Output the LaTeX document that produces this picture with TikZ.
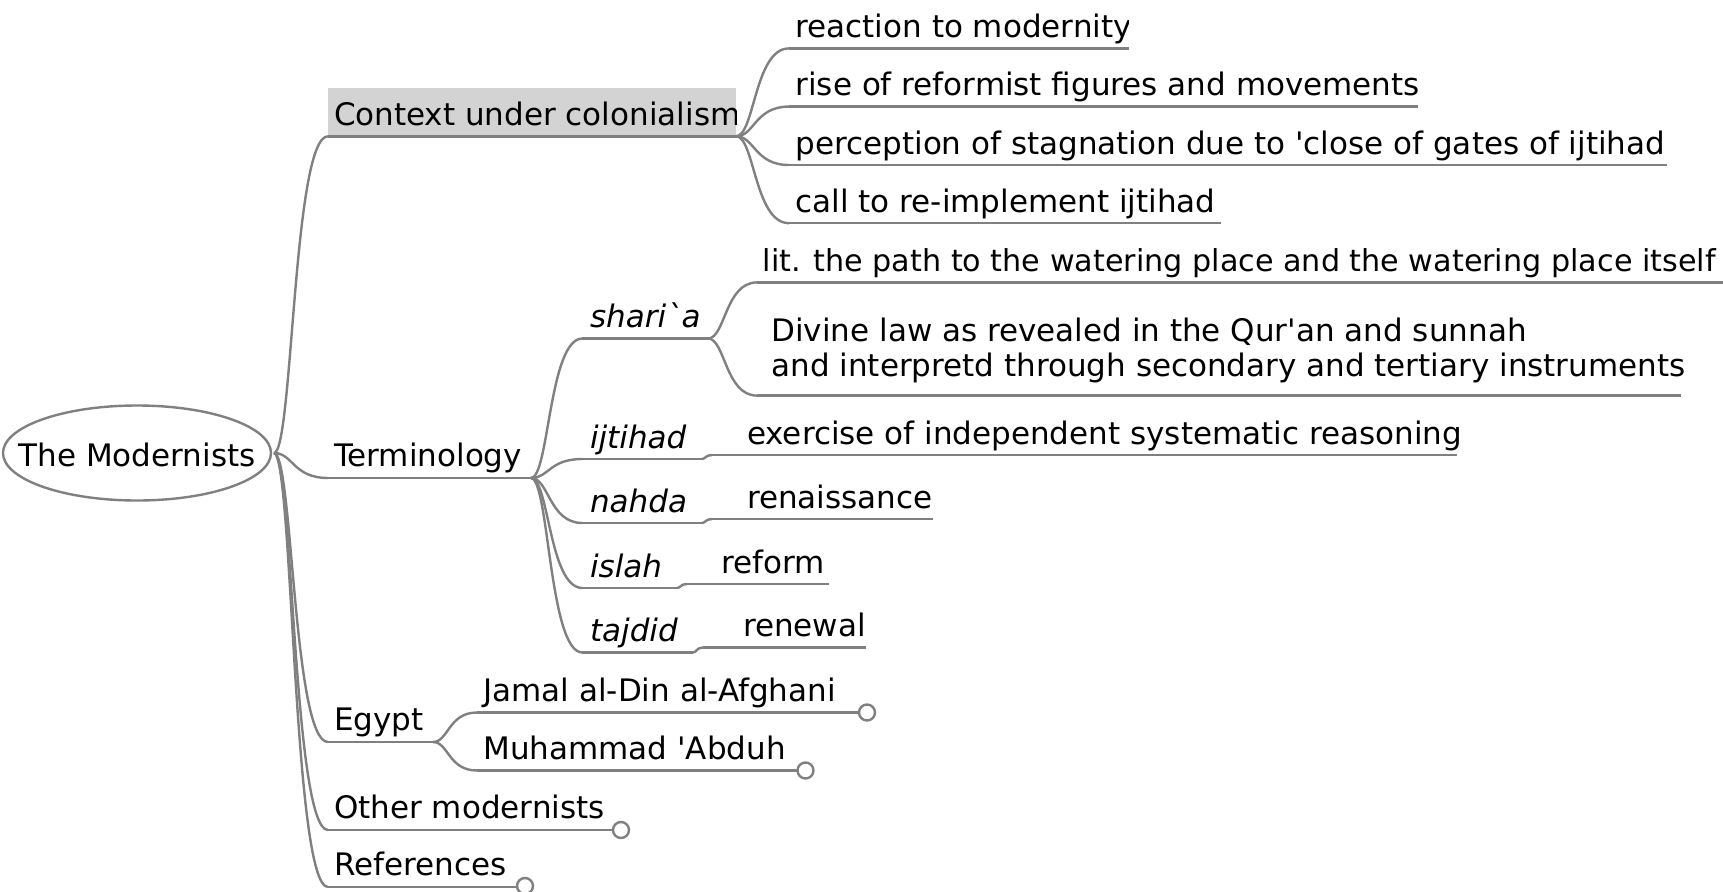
\documentclass[tikz,border=0pt]{standalone}
\usepackage{fontspec}
\setmainfont{DejaVu Sans}
\usetikzlibrary{calc}
\definecolor{edgegray}{RGB}{128,128,128}
\definecolor{fillgray}{RGB}{211,211,211}
\newcommand\mmedge[2]{\draw[edge] let \p1=(#1), \p2=(#2), \p3=($(#1)!0.35!(#2)$) in (\p1) .. controls (\x3,\y1) and (\x3,\y2) .. (\p2);}
\newcommand\qs{\textquotesingle}
\begin{document}
\begin{tikzpicture}[x=1pt,y=-1pt,
  edge/.style={draw=edgegray,line width=2.4pt},
  lbl/.style={anchor=base west,inner sep=0pt,outer sep=0pt,font=\fontsize{31}{35}\selectfont},
  ilbl/.style={lbl,font=\fontsize{31}{35}\selectfont\itshape},
  fold/.style={circle,draw=edgegray,fill=white,line width=2.4pt,minimum size=16pt,inner sep=0pt}]
\useasboundingbox (0,0) rectangle (1723,891);
% root
\node[inner sep=0pt,font=\fontsize{31}{35}\selectfont] (root) at (137,455) {The Modernists};
\draw[edge] (root.center) ++(0,-2) ellipse [x radius=134, y radius=47.5];
\coordinate (rootj) at (274,453);
% level 1
\fill[fillgray] (328,88) rectangle (736,136.3);
\coordinate (ctxs) at (328,136.3); \coordinate (ctxe) at (736,136.3);
\coordinate (ters) at (328,478);   \coordinate (tere) at (531,478);
\coordinate (egys) at (328,742);   \coordinate (egye) at (433,742);
\coordinate (oths) at (328,830);   \coordinate (othe) at (613,830);
\coordinate (refs) at (328,887);   \coordinate (refe) at (517,887);
\begin{scope}\clip (328,80) rectangle (736,140);
\node[lbl] (ctx) at (334,125) {Context under colonialism};
\end{scope}
\node[lbl] (ter) at (334,466.5) {Terminology};
\node[lbl] (egy) at (334,730.5) {Egypt};
\node[lbl] (oth) at (334,818.5) {Other modernists};
\node[lbl] (ref) at (334,875.5) {References};
\foreach \k in {ctx,ter,egy,oth,ref}{\draw[edge] (\k s) -- (\k e); \mmedge{rootj}{\k s}}
% context children
\foreach \m/\yy/\ee in {ca/48.4/1128.6, cb/106.6/1417.6, cc/165/1667, cd/223.2/1221}{
  \coordinate (\m s) at (789,\yy); \coordinate (\m e) at (\ee,\yy);
  \draw[edge] (\m s) -- (\m e); \mmedge{ctxe}{\m s}}
\begin{scope}\clip (780,0) rectangle (1128.6,60);
\node[lbl] (ca) at (795.6,37.4) {reaction to modernity};
\end{scope}
\begin{scope}\clip (780,60) rectangle (1417.6,118);
\node[lbl] (cb) at (795.6,95.6) {rise of reformist figures and movements};
\end{scope}
\begin{scope}\clip (780,118) rectangle (1667,178);
\node[lbl] (cc) at (795.6,154) {perception of stagnation due to \qs close of gates of ijtihad};
\end{scope}
\node[lbl] (cd) at (795.6,212.2) {call to re-implement ijtihad};
% terminology children
\coordinate (shs) at (582.4,338.5); \coordinate (she) at (708,338.5);
\draw[edge] (shs) -- (she); \mmedge{tere}{shs}
\node[ilbl] (sh) at (590,327.5) {shari\textasciigrave a};
\coordinate (lits) at (757,282.4); \coordinate (lite) at (1723,282.4);
\coordinate (divs) at (757,395.6); \coordinate (dive) at (1681,395.6);
\draw[edge] (lits) -- (lite); \mmedge{she}{lits}
\draw[edge] (divs) -- (dive); \mmedge{she}{divs}
\node[lbl,font=\fontsize{30.2}{35}\selectfont] (lit) at (762.6,271.4) {lit. the path to the watering place and the watering place itself};
\node[lbl] (div) at (771.4,341) {\begin{tabular}[t]{@{}l@{}}Divine law as revealed in the Qur\qs an and sunnah\\and interpretd through secondary and tertiary instruments\end{tabular}};
\foreach \m/\yy/\ee/\cy/\ce in {ij/459/702/455/1457, na/523/702/519/933, is/588/677/584/829, ta/652.5/693/647.5/866}{
  \coordinate (\m s) at (582.4,\yy); \coordinate (\m e) at (\ee,\yy);
  \coordinate (\m cs) at (\ee+10,\cy); \coordinate (\m ce) at (\ce,\cy);
  \draw[edge] (\m s) -- (\m e); \mmedge{tere}{\m s}
  \mmedge{\m e}{\m cs} \draw[edge] (\m cs) -- (\m ce);}
\node[ilbl] (ij) at (590,448) {ijtihad};
\node[ilbl] (na) at (590,512) {nahda};
\node[ilbl] (is) at (590,577) {islah};
\node[ilbl] (ta) at (590,641.5) {tajdid};
\node[lbl] (ijc) at (747,444) {exercise of independent systematic reasoning};
\node[lbl] (nac) at (747,508) {renaissance};
\node[lbl] (isc) at (721,573) {reform};
\node[lbl] (tac) at (743,636.5) {renewal};
% egypt children
\coordinate (jams) at (477,712.5); \coordinate (jame) at (859,712.5);
\coordinate (muhs) at (477,770.5); \coordinate (muhe) at (798,770.5);
\draw[edge] (jams) -- (jame); \mmedge{egye}{jams}
\draw[edge] (muhs) -- (muhe); \mmedge{egye}{muhs}
\node[lbl] (jam) at (483.5,701) {Jamal al-Din al-Afghani};
\node[lbl] (muh) at (483.5,759) {Muhammad \qs Abduh};
% fold circles
\node[fold] (jamf) at (867,712.5) {};
\node[fold] (muhf) at (805.5,770.5) {};
\node[fold] (othf) at (621,830) {};
\node[fold] (reff) at (525,886) {};
\end{tikzpicture}
\end{document}
